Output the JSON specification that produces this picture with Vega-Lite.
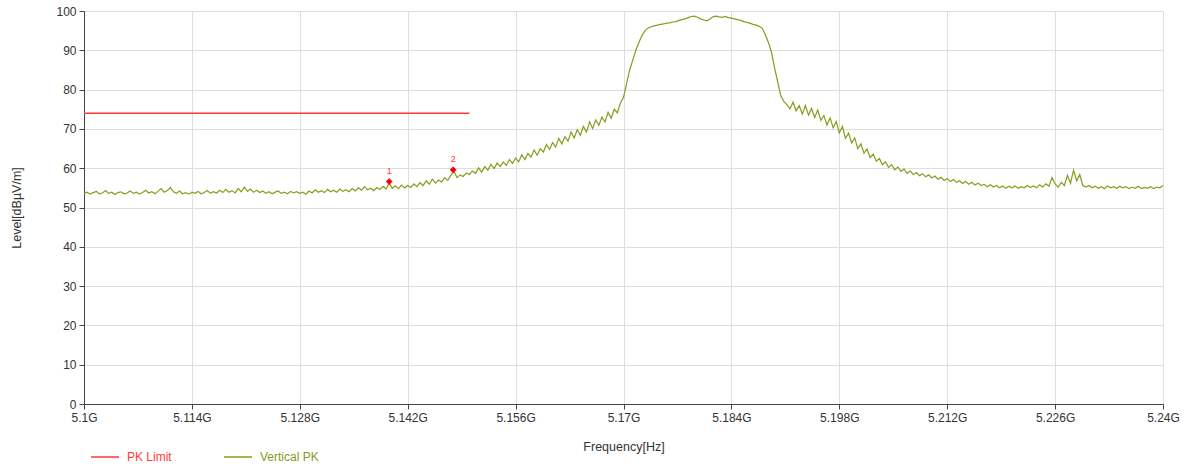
{
  "$schema": "https://vega.github.io/schema/vega-lite/v6.json",
  "width": 1079,
  "height": 393,
  "autosize": {"type": "none"},
  "padding": {"left": 84, "top": 11, "right": 26, "bottom": 62},
  "background": "white",
  "config": {
    "font": "Liberation Sans",
    "view": {"stroke": null},
    "axis": {
      "labelFont": "Liberation Sans",
      "titleFont": "Liberation Sans",
      "labelColor": "#333333",
      "titleColor": "#333333",
      "labelFontSize": 12,
      "titleFontSize": 12.5,
      "titleFontWeight": "normal",
      "gridColor": "#dedede",
      "gridWidth": 1,
      "domainColor": "#444444",
      "tickColor": "#444444",
      "tickSize": 5
    }
  },
  "datasets": {
    "trace": [
      {"freq":5100.0,"level":53.6},{"freq":5100.4,"level":53.9},{"freq":5100.8,"level":53.4},{"freq":5101.2,"level":53.8},{"freq":5101.6,"level":54.1},{"freq":5102.0,"level":53.5},{"freq":5102.4,"level":53.7},{"freq":5102.8,"level":54.3},{"freq":5103.2,"level":53.6},{"freq":5103.6,"level":53.9},
      {"freq":5104.0,"level":53.3},{"freq":5104.4,"level":53.8},{"freq":5104.8,"level":54.0},{"freq":5105.2,"level":53.5},{"freq":5105.6,"level":53.7},{"freq":5106.0,"level":54.2},{"freq":5106.4,"level":53.6},{"freq":5106.8,"level":53.9},{"freq":5107.2,"level":53.4},{"freq":5107.6,"level":53.8},
      {"freq":5108.0,"level":54.4},{"freq":5108.4,"level":53.7},{"freq":5108.8,"level":54.0},{"freq":5109.2,"level":53.5},{"freq":5109.6,"level":54.1},{"freq":5110.0,"level":54.8},{"freq":5110.4,"level":53.9},{"freq":5110.8,"level":54.3},{"freq":5111.2,"level":55.1},{"freq":5111.6,"level":54.0},
      {"freq":5112.0,"level":53.6},{"freq":5112.4,"level":54.2},{"freq":5112.8,"level":53.5},{"freq":5113.2,"level":53.8},{"freq":5113.6,"level":53.4},{"freq":5114.0,"level":53.9},{"freq":5114.4,"level":53.6},{"freq":5114.8,"level":54.1},{"freq":5115.2,"level":53.5},{"freq":5115.6,"level":53.8},
      {"freq":5116.0,"level":54.3},{"freq":5116.4,"level":53.6},{"freq":5116.8,"level":54.0},{"freq":5117.2,"level":53.7},{"freq":5117.6,"level":54.4},{"freq":5118.0,"level":53.8},{"freq":5118.4,"level":54.6},{"freq":5118.8,"level":53.9},{"freq":5119.2,"level":54.3},{"freq":5119.6,"level":53.7},
      {"freq":5120.0,"level":54.8},{"freq":5120.4,"level":54.0},{"freq":5120.8,"level":55.2},{"freq":5121.2,"level":54.1},{"freq":5121.6,"level":54.7},{"freq":5122.0,"level":53.9},{"freq":5122.4,"level":54.4},{"freq":5122.8,"level":53.8},{"freq":5123.2,"level":54.2},{"freq":5123.6,"level":53.6},
      {"freq":5124.0,"level":54.0},{"freq":5124.4,"level":53.5},{"freq":5124.8,"level":53.9},{"freq":5125.2,"level":54.2},{"freq":5125.6,"level":53.6},{"freq":5126.0,"level":53.9},{"freq":5126.4,"level":53.5},{"freq":5126.8,"level":54.1},{"freq":5127.2,"level":53.7},{"freq":5127.6,"level":54.0},
      {"freq":5128.0,"level":53.6},{"freq":5128.4,"level":53.9},{"freq":5128.8,"level":53.4},{"freq":5129.2,"level":54.2},{"freq":5129.6,"level":53.7},{"freq":5130.0,"level":54.5},{"freq":5130.4,"level":53.9},{"freq":5130.8,"level":54.3},{"freq":5131.2,"level":53.8},{"freq":5131.6,"level":54.6},
      {"freq":5132.0,"level":54.0},{"freq":5132.4,"level":54.4},{"freq":5132.8,"level":53.9},{"freq":5133.2,"level":54.7},{"freq":5133.6,"level":54.1},{"freq":5134.0,"level":54.5},{"freq":5134.4,"level":54.0},{"freq":5134.8,"level":54.8},
      {"freq":5135.2,"level":54.2},{"freq":5135.6,"level":55.0},{"freq":5136.0,"level":54.4},{"freq":5136.4,"level":55.3},{"freq":5136.8,"level":54.5},{"freq":5137.2,"level":54.9},{"freq":5137.6,"level":54.3},{"freq":5138.0,"level":55.1},{"freq":5138.4,"level":54.6},{"freq":5138.8,"level":55.4},
      {"freq":5139.2,"level":54.7},{"freq":5139.6,"level":56.2},{"freq":5140.0,"level":54.9},{"freq":5140.4,"level":55.5},{"freq":5140.8,"level":54.8},{"freq":5141.2,"level":55.7},{"freq":5141.6,"level":55.0},{"freq":5142.0,"level":55.6},{"freq":5142.4,"level":55.1},{"freq":5142.8,"level":56.0},
      {"freq":5143.2,"level":55.3},{"freq":5143.6,"level":56.3},{"freq":5144.0,"level":55.6},{"freq":5144.4,"level":56.8},{"freq":5144.8,"level":55.9},{"freq":5145.2,"level":57.2},{"freq":5145.6,"level":56.2},{"freq":5146.0,"level":57.0},{"freq":5146.4,"level":56.5},{"freq":5146.8,"level":57.6},
      {"freq":5147.2,"level":56.9},{"freq":5147.6,"level":58.2},{"freq":5148.0,"level":59.2},{"freq":5148.4,"level":57.6},{"freq":5148.8,"level":58.3},{"freq":5149.2,"level":57.9},{"freq":5149.6,"level":58.8},{"freq":5150.0,"level":58.4},
      {"freq":5150.4,"level":59.3},{"freq":5150.8,"level":58.7},{"freq":5151.2,"level":60.1},{"freq":5151.6,"level":59.0},{"freq":5152.0,"level":60.4},{"freq":5152.4,"level":59.5},{"freq":5152.8,"level":61.0},{"freq":5153.2,"level":59.9},{"freq":5153.6,"level":61.3},{"freq":5154.0,"level":60.4},
      {"freq":5154.4,"level":61.6},{"freq":5154.8,"level":60.7},{"freq":5155.2,"level":62.2},{"freq":5155.6,"level":61.2},{"freq":5156.0,"level":62.6},{"freq":5156.4,"level":61.6},{"freq":5156.8,"level":63.4},{"freq":5157.2,"level":62.2},{"freq":5157.6,"level":63.8},{"freq":5158.0,"level":62.8},
      {"freq":5158.4,"level":64.6},{"freq":5158.8,"level":63.3},{"freq":5159.2,"level":65.0},{"freq":5159.6,"level":64.1},{"freq":5160.0,"level":66.0},{"freq":5160.4,"level":64.8},{"freq":5160.8,"level":66.5},{"freq":5161.2,"level":65.4},{"freq":5161.6,"level":67.6},{"freq":5162.0,"level":66.2},
      {"freq":5162.4,"level":68.0},{"freq":5162.8,"level":66.9},{"freq":5163.2,"level":69.2},{"freq":5163.6,"level":67.7},{"freq":5164.0,"level":69.8},{"freq":5164.4,"level":68.4},{"freq":5164.8,"level":70.6},{"freq":5165.2,"level":69.2},{"freq":5165.6,"level":71.8},{"freq":5166.0,"level":70.1},
      {"freq":5166.4,"level":72.3},{"freq":5166.8,"level":70.9},{"freq":5167.2,"level":73.0},{"freq":5167.6,"level":71.8},{"freq":5168.0,"level":74.2},{"freq":5168.4,"level":72.7},{"freq":5168.8,"level":75.0},{"freq":5169.2,"level":74.1},{"freq":5169.6,"level":76.6},{"freq":5170.0,"level":78.0},
      {"freq":5170.4,"level":81.5},{"freq":5170.8,"level":85.0},{"freq":5171.2,"level":87.5},{"freq":5171.6,"level":90.0},{"freq":5172.0,"level":92.0},{"freq":5172.4,"level":93.8},{"freq":5172.8,"level":95.0},{"freq":5173.2,"level":95.7},{"freq":5173.6,"level":96.0},{"freq":5174.0,"level":96.2},
      {"freq":5174.4,"level":96.4},{"freq":5174.8,"level":96.6},{"freq":5175.2,"level":96.7},{"freq":5175.6,"level":96.9},{"freq":5176.0,"level":97.0},{"freq":5176.4,"level":97.2},{"freq":5176.8,"level":97.3},{"freq":5177.2,"level":97.6},{"freq":5177.6,"level":97.8},{"freq":5178.0,"level":98.0},
      {"freq":5178.4,"level":98.3},{"freq":5178.8,"level":98.6},{"freq":5179.2,"level":98.7},{"freq":5179.6,"level":98.4},{"freq":5180.0,"level":98.0},{"freq":5180.4,"level":97.7},{"freq":5180.8,"level":97.5},{"freq":5181.2,"level":97.9},{"freq":5181.6,"level":98.5},{"freq":5182.0,"level":98.7},
      {"freq":5182.4,"level":98.5},{"freq":5182.8,"level":98.4},{"freq":5183.2,"level":98.6},{"freq":5183.6,"level":98.3},{"freq":5184.0,"level":98.2},{"freq":5184.4,"level":98.0},{"freq":5184.8,"level":97.8},{"freq":5185.2,"level":97.6},{"freq":5185.6,"level":97.3},{"freq":5186.0,"level":97.1},
      {"freq":5186.4,"level":96.9},{"freq":5186.8,"level":96.6},{"freq":5187.2,"level":96.4},{"freq":5187.6,"level":96.1},{"freq":5188.0,"level":95.6},{"freq":5188.4,"level":94.0},{"freq":5188.8,"level":92.0},{"freq":5189.2,"level":89.5},{"freq":5189.6,"level":85.5},{"freq":5190.0,"level":82.0},
      {"freq":5190.4,"level":78.5},{"freq":5190.8,"level":77.0},{"freq":5191.2,"level":76.2},{"freq":5191.6,"level":75.1},{"freq":5192.0,"level":76.8},{"freq":5192.4,"level":74.6},{"freq":5192.8,"level":75.9},{"freq":5193.2,"level":73.8},{"freq":5193.6,"level":76.0},{"freq":5194.0,"level":73.5},
      {"freq":5194.4,"level":75.2},{"freq":5194.8,"level":72.9},{"freq":5195.2,"level":74.8},{"freq":5195.6,"level":72.2},{"freq":5196.0,"level":73.4},{"freq":5196.4,"level":71.0},{"freq":5196.8,"level":72.8},{"freq":5197.2,"level":70.3},{"freq":5197.6,"level":71.9},{"freq":5198.0,"level":69.0},
      {"freq":5198.4,"level":70.6},{"freq":5198.8,"level":67.6},{"freq":5199.2,"level":68.9},{"freq":5199.6,"level":66.4},{"freq":5200.0,"level":67.7},{"freq":5200.4,"level":65.0},{"freq":5200.8,"level":66.2},{"freq":5201.2,"level":63.8},{"freq":5201.6,"level":64.9},{"freq":5202.0,"level":62.7},
      {"freq":5202.4,"level":63.6},{"freq":5202.8,"level":61.8},{"freq":5203.2,"level":62.5},{"freq":5203.6,"level":60.9},{"freq":5204.0,"level":61.6},{"freq":5204.4,"level":60.2},{"freq":5204.8,"level":60.9},{"freq":5205.2,"level":59.6},{"freq":5205.6,"level":60.3},{"freq":5206.0,"level":59.2},
      {"freq":5206.4,"level":59.8},{"freq":5206.8,"level":58.7},{"freq":5207.2,"level":59.3},{"freq":5207.6,"level":58.4},{"freq":5208.0,"level":58.9},{"freq":5208.4,"level":58.1},{"freq":5208.8,"level":58.6},{"freq":5209.2,"level":57.8},{"freq":5209.6,"level":58.3},{"freq":5210.0,"level":57.5},
      {"freq":5210.4,"level":58.0},{"freq":5210.8,"level":57.2},{"freq":5211.2,"level":57.7},{"freq":5211.6,"level":56.9},{"freq":5212.0,"level":57.4},{"freq":5212.4,"level":56.6},{"freq":5212.8,"level":57.1},{"freq":5213.2,"level":56.4},{"freq":5213.6,"level":56.8},{"freq":5214.0,"level":56.1},
      {"freq":5214.4,"level":56.6},{"freq":5214.8,"level":55.9},{"freq":5215.2,"level":56.4},{"freq":5215.6,"level":55.7},{"freq":5216.0,"level":56.2},{"freq":5216.4,"level":55.6},{"freq":5216.8,"level":55.9},{"freq":5217.2,"level":55.3},{"freq":5217.6,"level":55.8},{"freq":5218.0,"level":55.2},
      {"freq":5218.4,"level":55.6},{"freq":5218.8,"level":55.0},{"freq":5219.2,"level":55.5},{"freq":5219.6,"level":54.9},{"freq":5220.0,"level":55.4},{"freq":5220.4,"level":55.0},{"freq":5220.8,"level":55.5},{"freq":5221.2,"level":54.9},{"freq":5221.6,"level":55.3},{"freq":5222.0,"level":55.0},
      {"freq":5222.4,"level":55.6},{"freq":5222.8,"level":55.1},{"freq":5223.2,"level":55.5},{"freq":5223.6,"level":55.0},{"freq":5224.0,"level":55.8},{"freq":5224.4,"level":55.2},{"freq":5224.8,"level":56.0},{"freq":5225.2,"level":55.4},{"freq":5225.6,"level":57.6},{"freq":5226.0,"level":56.0},
      {"freq":5226.4,"level":55.2},{"freq":5226.8,"level":56.4},{"freq":5227.2,"level":55.6},{"freq":5227.6,"level":58.2},{"freq":5228.0,"level":56.2},{"freq":5228.4,"level":59.5},{"freq":5228.8,"level":56.8},{"freq":5229.2,"level":58.4},{"freq":5229.6,"level":55.6},{"freq":5230.0,"level":55.2},
      {"freq":5230.4,"level":55.6},{"freq":5230.8,"level":55.0},{"freq":5231.2,"level":55.4},{"freq":5231.6,"level":54.9},{"freq":5232.0,"level":55.3},{"freq":5232.4,"level":54.8},{"freq":5232.8,"level":55.5},{"freq":5233.2,"level":55.0},{"freq":5233.6,"level":55.3},{"freq":5234.0,"level":54.9},
      {"freq":5234.4,"level":55.4},{"freq":5234.8,"level":55.0},{"freq":5235.2,"level":55.3},{"freq":5235.6,"level":54.8},{"freq":5236.0,"level":55.2},{"freq":5236.4,"level":54.9},{"freq":5236.8,"level":55.4},{"freq":5237.2,"level":54.8},{"freq":5237.6,"level":55.1},{"freq":5238.0,"level":54.9},
      {"freq":5238.4,"level":55.3},{"freq":5238.8,"level":54.8},{"freq":5239.2,"level":55.2},{"freq":5239.6,"level":55.0},{"freq":5240.0,"level":55.6}
    ],
    "limit": [
      {"freq": 5100, "level": 74},
      {"freq": 5150, "level": 74}
    ],
    "markers": [
      {"marker": "1", "freq": 5139.6, "level": 56.6},
      {"marker": "2", "freq": 5147.9, "level": 59.6}
    ]
  },
  "encoding": {
    "x": {
      "field": "freq",
      "type": "quantitative",
      "scale": {"domain": [5100, 5240], "nice": false, "zero": false},
      "axis": {
        "title": "Frequency[Hz]",
        "values": [5100, 5114, 5128, 5142, 5156, 5170, 5184, 5198, 5212, 5226, 5240],
        "labelExpr": "datum.value / 1000 + 'G'",
        "labelFlush": false,
        "labelPadding": 3,
        "titlePadding": 17,
        "grid": true
      }
    },
    "y": {
      "field": "level",
      "type": "quantitative",
      "scale": {"domain": [0, 100], "nice": false},
      "axis": {
        "title": "Level[dBµV/m]",
        "values": [0, 10, 20, 30, 40, 50, 60, 70, 80, 90, 100],
        "labelPadding": 3,
        "titlePadding": 32,
        "grid": true
      }
    }
  },
  "layer": [
    {
      "data": {"name": "limit"},
      "mark": {"type": "line", "strokeWidth": 1.5},
      "encoding": {
        "color": {
          "datum": "PK Limit",
          "type": "nominal",
          "scale": {"domain": ["PK Limit", "Vertical PK"], "range": ["#ff3a3a", "#8a9a1e"]},
          "legend": {
            "title": null,
            "orient": "none",
            "legendX": 6,
            "legendY": 431,
            "direction": "horizontal",
            "symbolType": "stroke",
            "symbolSize": 784,
            "symbolStrokeWidth": 1.5,
            "labelFontSize": 12,
            "labelFont": "Liberation Sans",
            "labelOffset": 7,
            "columnPadding": 49,
            "encode": {"labels": {"update": {"fill": {"scale": "color", "field": "value"}}}}
          }
        }
      }
    },
    {
      "data": {"name": "trace"},
      "mark": {"type": "line", "strokeWidth": 1.2},
      "encoding": {
        "color": {"datum": "Vertical PK", "type": "nominal"}
      }
    },
    {
      "data": {"name": "markers"},
      "mark": {"type": "point", "shape": "diamond", "filled": true, "size": 45, "color": "#ff0000", "opacity": 1},
      "encoding": {}
    },
    {
      "data": {"name": "markers"},
      "mark": {"type": "text", "dy": -11, "fontSize": 9, "color": "#ff3a3a", "font": "Liberation Sans"},
      "encoding": {"text": {"field": "marker"}}
    }
  ]
}
